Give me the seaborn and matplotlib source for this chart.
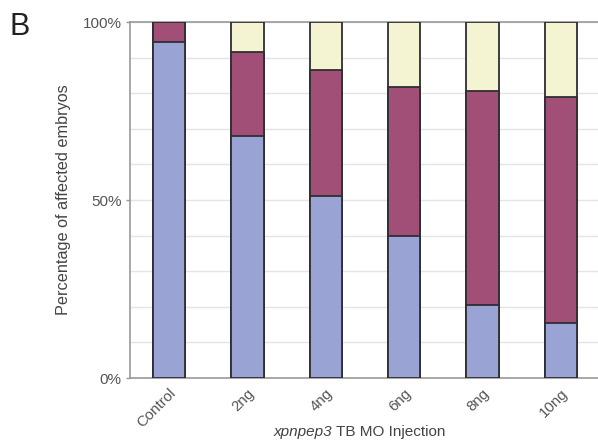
import numpy as np
import pandas as pd
import matplotlib
matplotlib.use("Agg")
import matplotlib.pyplot as plt
import seaborn as sns

# Dose groups and the share of embryos in each phenotype class (percent)
doses = ["Control", "2ng", "4ng", "6ng", "8ng", "10ng"]
class_low = [94.5, 68.0, 51.0, 40.0, 20.5, 15.5]
class_mid = [5.5, 23.7, 35.5, 41.7, 60.2, 63.5]
class_high = [0.0, 8.3, 13.5, 18.3, 19.3, 21.0]

colors = {"low": "#99a3d4", "mid": "#a24f78", "high": "#f5f4d2"}
edge = "#2e2e33"
text_grey = "#555555"

sns.set_theme(style="white")
plt.rcParams["font.family"] = ["Liberation Sans", "DejaVu Sans"]

df = pd.DataFrame({
    "dose": doses,
    "low": class_low,
    "mid": class_mid,
    "high": class_high,
})
df["top_low"] = df["low"]
df["top_mid"] = df["low"] + df["mid"]
df["top_high"] = df["top_mid"] + df["high"]

fig = plt.figure(figsize=(5.98, 4.41), dpi=100)
ax = fig.add_axes([130 / 598, 63 / 441, 470 / 598, 356 / 441])

# Stacked bars: draw cumulative heights back to front
for col, key in [("top_high", "high"), ("top_mid", "mid"), ("top_low", "low")]:
    sns.barplot(data=df, x="dose", y=col, order=doses, color=colors[key],
                saturation=1, width=0.41, edgecolor=edge, linewidth=1.3,
                ax=ax, zorder=3)

ax.set_ylim(0, 100)
ax.set_xlim(-0.5, 5.5)
ax.set_yticks(np.arange(0, 101, 10), minor=True)
ax.set_yticks([0, 50, 100])
ax.set_yticklabels(["0%", "50%", "100%"], fontsize=11, color=text_grey)
ax.yaxis.grid(True, which="both", color="#e4e4e4", linewidth=1.0, zorder=0)
ax.set_axisbelow(True)
ax.tick_params(axis="y", which="major", length=3, width=1, color="#999999",
               left=True, pad=3)
ax.tick_params(axis="y", which="minor", length=0)

ax.set_xticks(range(len(doses)))
ax.set_xticklabels(doses, rotation=45, ha="right", rotation_mode="anchor",
                   fontsize=10.8, color=text_grey)
ax.tick_params(axis="x", length=0, pad=6)

for side in ["left", "top", "bottom"]:
    ax.spines[side].set_color("#9a9a9a")
    ax.spines[side].set_linewidth(1.2)
ax.spines["right"].set_visible(False)

ax.set_ylabel("Percentage of affected embryos", fontsize=11.7,
              color="#444444")
ax.yaxis.set_label_coords(-0.125, 0.5)
ax.set_xlabel("")

# x-axis title: italic gene name followed by upright text
gene = fig.text(0.457, 0.012, "xpnpep3", ha="left", va="baseline",
                fontsize=11, color="#444444", style="italic")
fig.text(0, 0, " TB MO Injection", fontsize=11, color="#444444",
         ha="left", va="baseline",
         transform=matplotlib.transforms.offset_copy(
             fig.transFigure, fig=fig, x=0, y=0))
fig.canvas.draw()
bb = gene.get_window_extent().transformed(fig.transFigure.inverted())
fig.texts[-1].set_position((bb.x1, 0.012))

fig.text(0.016, 0.905, "B", fontsize=22, color="#222222", ha="left",
         va="bottom")

fig.savefig("out.png", dpi=100)
